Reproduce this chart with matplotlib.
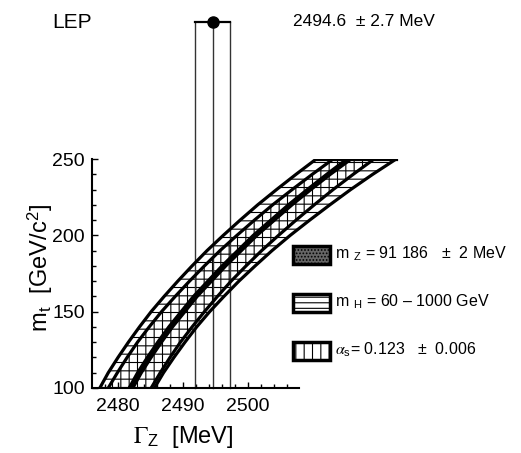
import matplotlib
matplotlib.use('Agg')
import matplotlib.pyplot as plt
from matplotlib.patches import Rectangle

mt = [100, 110, 120, 130, 140, 150, 160, 170, 180, 190, 200, 210, 220, 230, 240, 250]

# Gamma_Z [MeV] along each edge curve (left to right)
gz_mh_left = [2477.2, 2478.5, 2480.0, 2481.6, 2483.3, 2485.1, 2487.1, 2489.2,
              2491.4, 2493.7, 2496.2, 2498.8, 2501.5, 2504.4, 2507.4, 2510.5]
gz_as_left = [2478.5, 2479.9, 2481.4, 2483.0, 2484.8, 2486.7, 2488.8, 2491.0,
              2493.3, 2495.7, 2498.3, 2501.0, 2503.8, 2506.8, 2509.9, 2513.1]
gz_mz_lo = [2481.7, 2483.0, 2484.5, 2486.1, 2487.8, 2489.7, 2491.6, 2493.8,
            2496.0, 2498.4, 2500.8, 2503.5, 2506.2, 2509.1, 2512.1, 2515.2]
gz_mz_hi = [2482.3, 2483.6, 2485.1, 2486.7, 2488.4, 2490.3, 2492.2, 2494.4,
            2496.6, 2499.0, 2501.4, 2504.1, 2506.8, 2509.7, 2512.7, 2515.9]
gz_as_right = [2485.1, 2486.5, 2488.0, 2489.6, 2491.4, 2493.3, 2495.3, 2497.4,
               2499.7, 2502.1, 2504.7, 2507.4, 2510.2, 2513.1, 2516.2, 2519.4]
gz_mh_right = [2485.6, 2487.0, 2488.6, 2490.3, 2492.1, 2494.1, 2496.3, 2498.6,
               2501.1, 2503.7, 2506.5, 2509.5, 2512.6, 2515.8, 2519.2, 2522.8]

lep_central = 2494.6
lep_err = 2.7

x_major = [2480, 2490, 2500]
x_minor = list(range(2478, 2508, 2))
y_major = [100, 150, 200, 250]
y_minor = list(range(100, 251, 10))

legend_labels = ['m $_{\\mathregular{Z}}$ = 91 186   \u00b1  2 MeV',
                 'm $_{\\mathregular{H}}$ = 60 \u2013 1000 GeV',
                 '$\\alpha_{\\mathregular{s}}$= 0.123   \u00b1  0.006']

plt.rcParams['font.family'] = ['Liberation Sans', 'DejaVu Sans']
plt.rcParams['mathtext.fontset'] = 'stix'
plt.rcParams['hatch.linewidth'] = 0.8
plt.rcParams['hatch.color'] = 'black'

W, H = 521, 453
fig = plt.figure(figsize=(W / 100, H / 100), dpi=100)
ax = fig.add_axes([92 / W, 65 / H, (404 - 92) / W, 229 / H])
ax.set_xlim(2476, 2524)
ax.set_ylim(100, 250)

# bands
ax.fill_betweenx(mt, gz_mh_left, gz_mh_right, facecolor='none',
                 edgecolor='black', hatch='--', linewidth=0, zorder=1)
ax.fill_betweenx(mt, gz_as_left, gz_as_right, facecolor='none',
                 edgecolor='black', hatch='||', linewidth=0, zorder=1)
ax.fill_betweenx(mt, gz_mz_lo, gz_mz_hi, facecolor='black',
                 edgecolor='black', linewidth=0, zorder=3)
for c in [gz_mh_left, gz_as_left, gz_as_right, gz_mh_right]:
    ax.plot(c, mt, color='black', lw=2.3, solid_capstyle='butt', zorder=3)
for c in [gz_mz_lo, gz_mz_hi]:
    ax.plot(c, mt, color='black', lw=2.2, solid_capstyle='butt', zorder=3)
ax.plot([gz_mh_left[-1], gz_mh_right[-1]], [mt[-1], mt[-1]],
        color='black', lw=2.3, zorder=3)

# LEP measurement, drawn up above the frame
top = 340
for x in [lep_central - lep_err, lep_central, lep_central + lep_err]:
    ax.plot([x, x], [100, top], color='#333333', lw=1.0, clip_on=False, zorder=2)
ax.plot([lep_central - lep_err, lep_central + lep_err], [top, top],
        color='black', lw=1.6, clip_on=False)
ax.plot([lep_central], [top], 'o', color='black', ms=8, clip_on=False)

# axes
for s in ['top', 'right']:
    ax.spines[s].set_visible(False)
ax.spines['left'].set_linewidth(1.5)
ax.spines['bottom'].set_linewidth(1.5)
ax.spines['bottom'].set_bounds(2476, 2507.8)
ax.set_xticks(x_major)
ax.set_xticks(x_minor, minor=True)
ax.set_yticks(y_major)
ax.set_yticks(y_minor, minor=True)
ax.tick_params(which='both', direction='in', width=1.0, labelsize=14)
ax.tick_params(which='major', length=4.5)
ax.tick_params(which='minor', length=3)
ax.tick_params(axis='x', pad=7)
ax.tick_params(axis='y', pad=5)

fig.text(183 / W, 1 - 437 / H, '$\\Gamma_{\\mathregular{Z}}$  [MeV]',
         fontsize=17, ha='center', va='center')
fig.text(40 / W, 1 - 268 / H, 'm$_{\\mathregular{t}}$  [GeV/c$^{\\mathregular{2}}$]',
         fontsize=17, ha='center', va='center', rotation=90)
fig.text(52 / W, 1 - 22 / H, 'LEP', fontsize=15, ha='left', va='center')
fig.text(293 / W, 1 - 22 / H, '2494.6  \u00b1 2.7 MeV', fontsize=12.5,
         ha='left', va='center')

# legend boxes
box_y = [254.5, 302.5, 351]
box_style = [dict(facecolor='0.4', hatch='.....'),
             dict(facecolor='white', hatch='---'),
             dict(facecolor='white', hatch='||')]
for yc, st, lab in zip(box_y, box_style, legend_labels):
    r = Rectangle((293 / W, 1 - (yc + 9) / H), 37 / W, 18 / H,
                  transform=fig.transFigure, edgecolor='black', lw=2.5, **st)
    fig.patches.append(r)
    fig.text(335 / W, 1 - (yc - 1) / H, lab, fontsize=11.5, ha='left', va='center')

fig.savefig('out.png', dpi=100)
